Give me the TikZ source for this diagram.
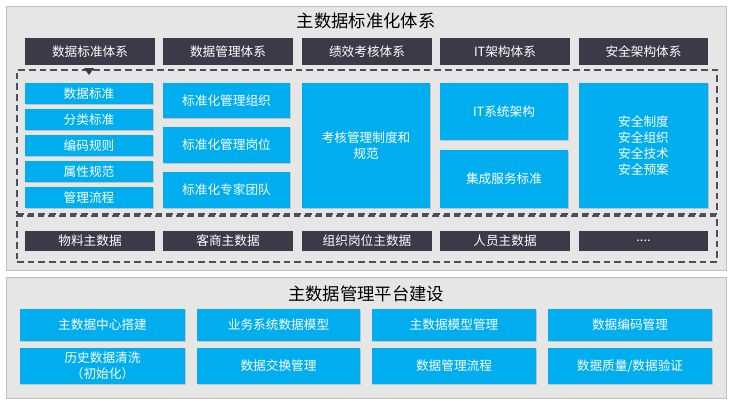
\documentclass[tikz,border=0pt]{standalone}
\usepackage{fontspec}
\setmainfont{Noto Sans CJK SC}
\usetikzlibrary{shadows}
\definecolor{bl}{HTML}{00AEEF}
\definecolor{dk}{HTML}{3A3A48}
\definecolor{pn}{HTML}{E6E6E6}
\tikzset{
 bx/.style={fill=bl,text=white,font=\fontsize{9.5}{12}\selectfont,align=center,inner sep=0pt,drop shadow={shadow xshift=1pt,shadow yshift=-1pt,opacity=0.35}},
 dkb/.style={fill=dk,text=white,font=\fontsize{9.5}{12}\selectfont,align=center,inner sep=0pt},
 pan/.style={fill=pn,draw=gray!50},
 dsh/.style={draw=dk!90,line width=1.2pt,dash pattern=on 5pt off 3pt},
}
\newcommand{\bxn}[6]{\node[#1,minimum width=#4*0.75pt-#2*0.75pt,minimum height=#5*0.75pt-#3*0.75pt] (#6) at ({(#2+#4)/2*0.75pt},{-(#3+#5)/2*0.75pt})}
\begin{document}
\begin{tikzpicture}
\useasboundingbox (0,0) rectangle (732*0.75pt,-401*0.75pt);
\fill[white] (0,0) rectangle (732*0.75pt,-401*0.75pt);
\bxn{pan}{6}{6}{726}{270}{p1} {};
\bxn{pan}{6}{277}{726}{398}{p2} {};
\node[font=\fontsize{13}{15}\selectfont] (t1) at (366*0.75pt,-21*0.75pt) {主数据标准化体系};
\node[font=\fontsize{13}{15}\selectfont] (t2) at (366*0.75pt,-294*0.75pt) {主数据管理平台建设};
\bxn{dsh}{17}{70}{717}{214}{d1} {};
\bxn{dsh}{17}{216}{717}{262}{d2} {};
\bxn{dkb}{25}{38}{155}{65}{h1} {数据标准体系};
\bxn{dkb}{163}{38}{293}{65}{h2} {数据管理体系};
\bxn{dkb}{302}{38}{432}{65}{h3} {绩效考核体系};
\bxn{dkb}{440}{38}{570}{65}{h4} {IT架构体系};
\bxn{dkb}{579}{38}{708}{65}{h5} {安全架构体系};
\fill[dk] (84*0.75pt,-68*0.75pt) -- (94*0.75pt,-68*0.75pt) -- (89*0.75pt,-75*0.75pt) -- cycle;
\bxn{bx}{25}{83}{153}{104}{a1} {数据标准};
\bxn{bx}{25}{109}{153}{130}{a2} {分类标准};
\bxn{bx}{25}{135}{153}{156}{a3} {编码规则};
\bxn{bx}{25}{161}{153}{182}{a4} {属性规范};
\bxn{bx}{25}{187}{153}{208}{a5} {管理流程};
\bxn{bx}{163}{83}{290}{118}{b1} {标准化管理组织};
\bxn{bx}{163}{127}{290}{163}{b2} {标准化管理岗位};
\bxn{bx}{163}{172}{290}{208}{b3} {标准化专家团队};
\bxn{bx}{302}{83}{430}{208}{c1} {考核管理制度和\\规范};
\bxn{bx}{440}{83}{568}{140}{e1} {IT系统架构};
\bxn{bx}{440}{150}{568}{208}{e2} {集成服务标准};
\bxn{bx}{579}{83}{708}{208}{f1} {安全制度\\安全组织\\安全技术\\安全预案};
\bxn{dkb}{25}{231}{155}{251}{m1} {物料主数据};
\bxn{dkb}{163}{231}{293}{251}{m2} {客商主数据};
\bxn{dkb}{302}{231}{432}{251}{m3} {组织岗位主数据};
\bxn{dkb}{440}{231}{570}{251}{m4} {人员主数据};
\bxn{dkb}{579}{231}{708}{251}{m5} {....};
\bxn{bx}{20}{309}{185}{341}{g1} {主数据中心搭建};
\bxn{bx}{197}{309}{360}{341}{g2} {业务系统数据模型};
\bxn{bx}{372}{309}{536}{341}{g3} {主数据模型管理};
\bxn{bx}{548}{309}{712}{341}{g4} {数据编码管理};
\bxn{bx}{20}{348}{185}{384}{k1} {历史数据清洗\\（初始化）};
\bxn{bx}{197}{348}{360}{384}{k2} {数据交换管理};
\bxn{bx}{372}{348}{536}{384}{k3} {数据管理流程};
\bxn{bx}{548}{348}{712}{384}{k4} {数据质量/数据验证};
\end{tikzpicture}
\end{document}
